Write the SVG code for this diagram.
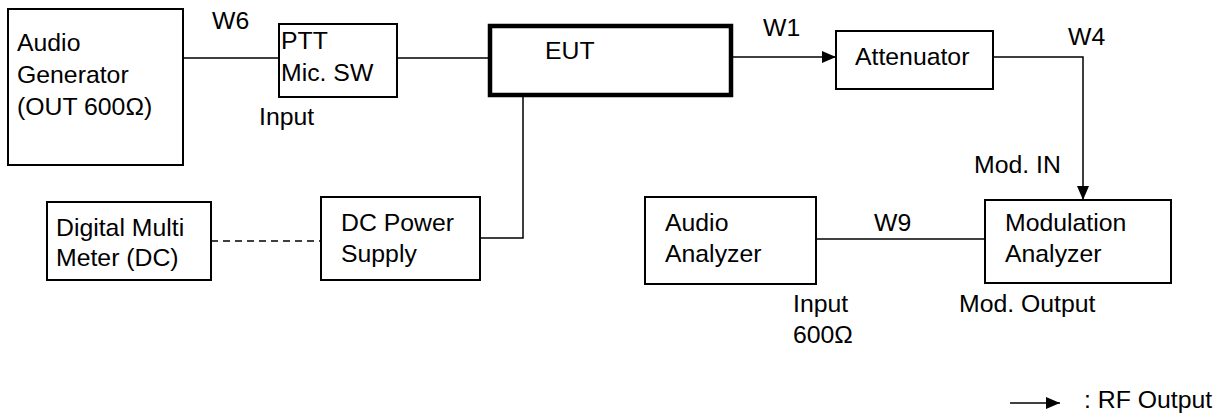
<svg xmlns="http://www.w3.org/2000/svg" width="1224" height="419" viewBox="0 0 1224 419">
<style>
text{font-family:"Liberation Sans",Arial,sans-serif;font-size:24.8px;fill:#000}
.box{fill:#fff;stroke:#000;stroke-width:2}
.eut{fill:#fff;stroke:#000;stroke-width:4.5}
.ln{fill:none;stroke:#000;stroke-width:1.5}
.dash{fill:none;stroke:#000;stroke-width:1.5;stroke-dasharray:7 5}
</style>
<defs>
<marker id="ah" markerWidth="14" markerHeight="12" refX="14" refY="6" orient="auto" markerUnits="userSpaceOnUse">
<path d="M0,0 L14,6 L0,12 Z" fill="#000"/>
</marker>
</defs>
<g id="connectors">
<line class="ln" x1="183" y1="58" x2="279" y2="58"/>
<line class="ln" x1="397" y1="58" x2="489" y2="58"/>
<line class="ln" x1="732" y1="57" x2="836" y2="57" marker-end="url(#ah)"/>
<polyline class="ln" points="993,57 1083,57 1083,200" marker-end="url(#ah)"/>
<polyline class="ln" points="480,238 523,238 523,96"/>
<line class="dash" x1="211" y1="241" x2="321" y2="241"/>
<line class="ln" x1="816" y1="239" x2="985" y2="239"/>
</g>
<g id="audio-generator">
<rect class="box" x="8" y="9" width="175" height="156"/>
<text x="17" y="51">Audio</text>
<text x="17" y="83">Generator</text>
<text x="17" y="115">(OUT 600Ω)</text>
</g>
<g id="ptt">
<rect class="box" x="279" y="24" width="118" height="73"/>
<text x="281" y="49">PTT</text>
<text x="281" y="81">Mic. SW</text>
</g>
<g id="eut">
<rect class="eut" x="490" y="26" width="241" height="69"/>
<text x="545" y="59">EUT</text>
</g>
<g id="attenuator">
<rect class="box" x="836" y="31" width="157" height="58"/>
<text x="855" y="65">Attenuator</text>
</g>
<g id="digital-multimeter">
<rect class="box" x="47" y="202" width="164" height="78"/>
<text x="56" y="236">Digital Multi</text>
<text x="56" y="266">Meter (DC)</text>
</g>
<g id="dc-power">
<rect class="box" x="321" y="197" width="159" height="83"/>
<text x="341" y="231">DC Power</text>
<text x="341" y="262">Supply</text>
</g>
<g id="audio-analyzer">
<rect class="box" x="645" y="197" width="171" height="87"/>
<text x="665" y="231">Audio</text>
<text x="665" y="262">Analyzer</text>
</g>
<g id="modulation-analyzer">
<rect class="box" x="985" y="200" width="186" height="83"/>
<text x="1005" y="231">Modulation</text>
<text x="1005" y="262">Analyzer</text>
</g>
<g id="labels">
<text x="212" y="29">W6</text>
<text x="259" y="125">Input</text>
<text x="763" y="36">W1</text>
<text x="1068" y="45">W4</text>
<text x="974" y="173">Mod. IN</text>
<text x="874" y="231">W9</text>
<text x="793" y="312">Input</text>
<text x="793" y="343">600Ω</text>
<text x="959" y="312">Mod. Output</text>
</g>
<g id="legend">
<line class="ln" x1="1010" y1="403" x2="1060" y2="403" marker-end="url(#ah)"/>
<text x="1084" y="408">: RF Output</text>
</g>
</svg>
